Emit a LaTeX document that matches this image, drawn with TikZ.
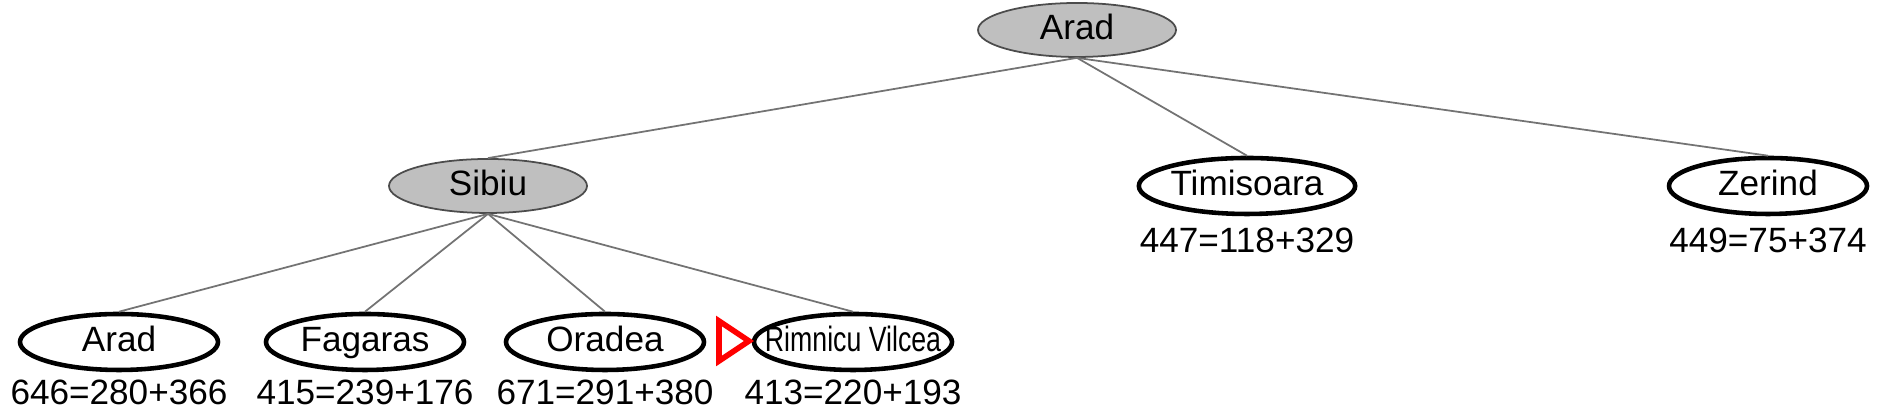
\documentclass[tikz,border=0pt]{standalone}
\usepackage{fontspec}
\setmainfont{Liberation Sans}
\usetikzlibrary{positioning,shapes.geometric}

\tikzset{
	city/.style={ellipse, draw, line width=1.3pt, minimum width=1.98cm, minimum height=0.56cm, inner sep=0pt, text height=0.72em, text depth=0.2em, font=\fontsize{10}{12}\selectfont},
	expanded/.style={ellipse, draw=black!70, fill=black!25, line width=0.5pt, minimum width=1.98cm, minimum height=0.54cm, inner sep=0pt, text height=0.72em, text depth=0.2em, font=\fontsize{10}{12}\selectfont},
	cost/.style={inner sep=0pt, font=\fontsize{10}{12}\selectfont},
	branch/.style={draw=black!55, line width=0.5pt}
}

\begin{document}
\begin{tikzpicture}
	\useasboundingbox (0,0) rectangle (18.8,4.17);
	
	% root and first level
	\node[expanded] (arad) at (10.77,3.87) {Arad};
	\node[expanded] (sibiu) at (4.88,2.31) {Sibiu};
	\node[city] (timisoara) at (12.47,2.31) {Timisoara};
	\node[city] (zerind) at (17.68,2.31) {Zerind};
	\node[cost] (timisoaraf) at (12.47,1.77) {447=118+329};
	\node[cost] (zerindf) at (17.68,1.77) {449=75+374};
	
	% children of Sibiu
	\node[city] (arad2) at (1.19,0.75) {Arad};
	\node[city] (fagaras) at (3.65,0.75) {Fagaras};
	\node[city] (oradea) at (6.05,0.75) {Oradea};
	\node[city] (rimnicu) at (8.53,0.75) {\makebox[1.3cm]{\scalebox{0.76}[1]{Rimnicu Vilcea}}};
	\node[cost] (arad2f) at (1.19,0.25) {646=280+366};
	\node[cost] (fagarasf) at (3.65,0.25) {415=239+176};
	\node[cost] (oradeaf) at (6.05,0.25) {671=291+380};
	\node[cost] (rimnicuf) at (8.53,0.25) {413=220+193};
	
	\foreach \c in {sibiu,timisoara,zerind}
		\draw[branch] (arad.south) -- (\c.north);
	\foreach \c in {arad2,fagaras,oradea,rimnicu}
		\draw[branch] (sibiu.south) -- (\c.north);
	
	% next node to expand
	\draw[red, line width=1.6pt, line join=miter] (7.19,0.96) -- (7.19,0.56) -- (7.49,0.76) -- cycle;
\end{tikzpicture}
\end{document}
